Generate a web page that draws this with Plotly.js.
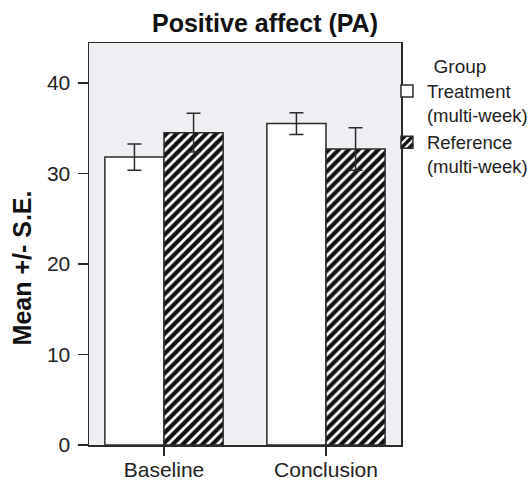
<!DOCTYPE html>
<html><head><meta charset="utf-8">
<script src="https://cdn.plot.ly/plotly-3.0.1.min.js"></script>
<style>body{margin:0;background:#fff}#c{width:530px;height:482px}</style>
</head><body><div id="c"></div>
<script>
const categories = ["Baseline", "Conclusion"];
const treatmentMean = [31.8, 35.5];
const treatmentSE = [1.45, 1.2];
const referenceMean = [34.5, 32.7];
const referenceSE = [2.15, 2.35];
const seriesNames = ["Treatment<br>(multi-week)", "Reference<br>(multi-week)"];
const yTicks = [0, 10, 20, 30, 40];

const font = "Liberation Sans, Arial, sans-serif";
const lineC = "#2b2b2b";
const err = (a) => ({type: "data", array: a, visible: true, color: lineC, thickness: 1.5, width: 7});

const data = [
  {type: "bar", x: categories, y: treatmentMean, name: seriesNames[0],
   marker: {color: "#ffffff", line: {color: lineC, width: 1.5}},
   error_y: err(treatmentSE)},
  {type: "bar", x: categories, y: referenceMean, name: seriesNames[1],
   marker: {color: "#ffffff", line: {color: lineC, width: 1.5},
            pattern: {shape: "/", fgcolor: "#111111", bgcolor: "#ffffff", size: 7, solidity: 0.6}},
   error_y: err(referenceSE)}
];

const layout = {
  width: 530, height: 482,
  margin: {l: 89, r: 129, t: 43, b: 37, autoexpand: false},
  paper_bgcolor: "#ffffff", plot_bgcolor: "#eeeff2",
  font: {family: font, size: 20, color: "#222"},
  title: {text: "<b>Positive affect (PA)</b>", x: 0.5, xref: "container", xanchor: "center",
          yref: "container", y: 0.952, yanchor: "middle", font: {size: 25, color: "#111"}},
  barmode: "group", bargap: 0.27, bargroupgap: 0,
  showlegend: true,
  legend: {x: 0.955, xanchor: "left", y: 0.988, yanchor: "top", bgcolor: "rgba(0,0,0,0)",
           font: {size: 18.5, color: "#222"}, tracegroupgap: 0, valign: "top",
           title: {text: "Group", side: "top center", font: {size: 19, color: "#222"}}},
  annotations: [{text: "<b>Mean +/- S.E.</b>", xref: "paper", yref: "paper", x: -0.215, y: 0.4415,
                 xanchor: "center", yanchor: "middle", textangle: -90, showarrow: false,
                 font: {size: 25, color: "#111"}}],
  xaxis: {range: [-0.463, 1.463], showline: true, linecolor: lineC, linewidth: 1.5, mirror: true,
          ticks: "outside", ticklen: 9, tickcolor: lineC, tickwidth: 1.5, showgrid: false, zeroline: false,
          tickfont: {size: 21}, ticklabelstandoff: -4},
  yaxis: {range: [0, 44.4], showline: true, linecolor: lineC, linewidth: 1.5, mirror: true,
          ticks: "outside", ticklen: 10, tickcolor: lineC, tickwidth: 1.5, showgrid: false, zeroline: false,
          tickvals: yTicks, tickfont: {size: 21}, ticklabelstandoff: 3}
};

Plotly.newPlot("c", data, layout, {displayModeBar: false, staticPlot: true});
</script></body></html>
